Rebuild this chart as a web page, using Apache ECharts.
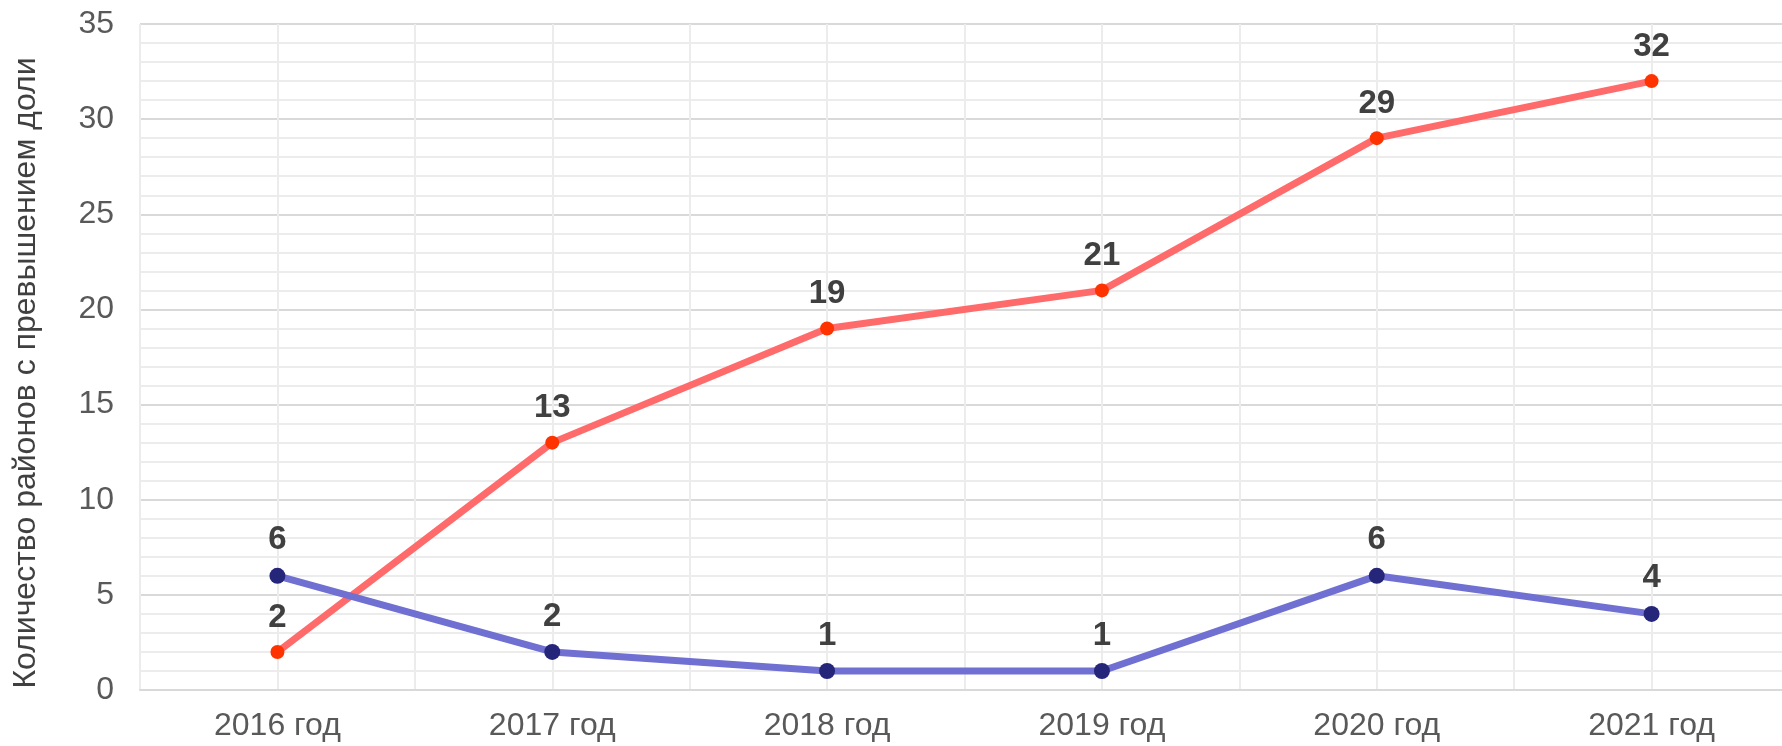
<!DOCTYPE html>
<html>
<head>
<meta charset="utf-8">
<script src="https://cdn.jsdelivr.net/npm/echarts@6/dist/echarts.min.js"></script>
<style>
  html, body { margin: 0; padding: 0; background: #fff; overflow: hidden; }
  /* the reference plot runs a little past the right edge, so the canvas is wider than the window */
  #chart { width: 1792px; height: 746px; }
</style>
</head>
<body>
<div id="chart"></div>
<script>
// data
var years = ['2016 год', '2017 год', '2018 год', '2019 год', '2020 год', '2021 год'];
var redValues = [2, 13, 19, 21, 29, 32];
var blueValues = [6, 2, 1, 1, 6, 4];
var yTicks = [0, 5, 10, 15, 20, 25, 30, 35];

var FONT = '"Liberation Sans", Arial, sans-serif';

function pairs(vals) {
  var out = [];
  for (var i = 0; i < vals.length; i++) out.push([i, vals[i]]);
  return out;
}

var myChart = echarts.init(document.getElementById('chart'));

var option = {
  animation: false,
  textStyle: { fontFamily: FONT },
  grid: { left: 140, right: 0, top: 24, bottom: 56, containLabel: false },
  xAxis: {
    type: 'value',
    min: -0.5,
    max: 5.5,
    interval: 0.5,
    axisLine: { show: true, lineStyle: { color: '#d9d9d9', width: 2 } },
    axisTick: { show: false },
    splitLine: { show: true, lineStyle: { color: '#ececec', width: 2 } },
    axisLabel: {
      margin: 20,
      fontSize: 32,
      color: '#595959',
      fontFamily: FONT,
      formatter: function (v) {
        return Number.isInteger(v) && years[v] ? years[v] : '';
      }
    }
  },
  yAxis: {
    type: 'value',
    min: yTicks[0],
    max: yTicks[yTicks.length - 1],
    interval: 5,
    name: 'Количество районов с превышением доли',
    nameLocation: 'middle',
    nameRotate: 90,
    nameGap: 98,
    nameTextStyle: { fontSize: 32, color: '#404040', fontFamily: FONT, padding: [0, 32, 0, 0] },
    axisLine: { show: false },
    axisTick: { show: false },
    axisLabel: { margin: 26, fontSize: 32, color: '#595959', fontFamily: FONT },
    splitLine: { show: true, lineStyle: { color: '#d9d9d9', width: 2 } },
    minorTick: { show: false, splitNumber: 5 },
    minorSplitLine: { show: true, lineStyle: { color: '#ececec', width: 2 } }
  },
  series: [
    {
      name: 'red',
      type: 'line',
      data: pairs(redValues),
      symbol: 'circle',
      symbolSize: 14,
      lineStyle: { color: '#ff6b6b', width: 7 },
      itemStyle: { color: '#ff3300' },
      label: {
        show: true, position: 'top', distance: 11,
        fontSize: 33, fontWeight: 'bold', color: '#404040', fontFamily: FONT,
        formatter: function (p) { return p.value[1]; }
      },
      z: 2
    },
    {
      name: 'blue',
      type: 'line',
      data: pairs(blueValues),
      symbol: 'circle',
      symbolSize: 16,
      lineStyle: { color: '#7070d2', width: 7 },
      itemStyle: { color: '#25257a' },
      label: {
        show: true, position: 'top', distance: 11,
        fontSize: 33, fontWeight: 'bold', color: '#404040', fontFamily: FONT,
        formatter: function (p) { return p.value[1]; }
      },
      z: 3
    }
  ]
};

myChart.setOption(option);
</script>
</body>
</html>
